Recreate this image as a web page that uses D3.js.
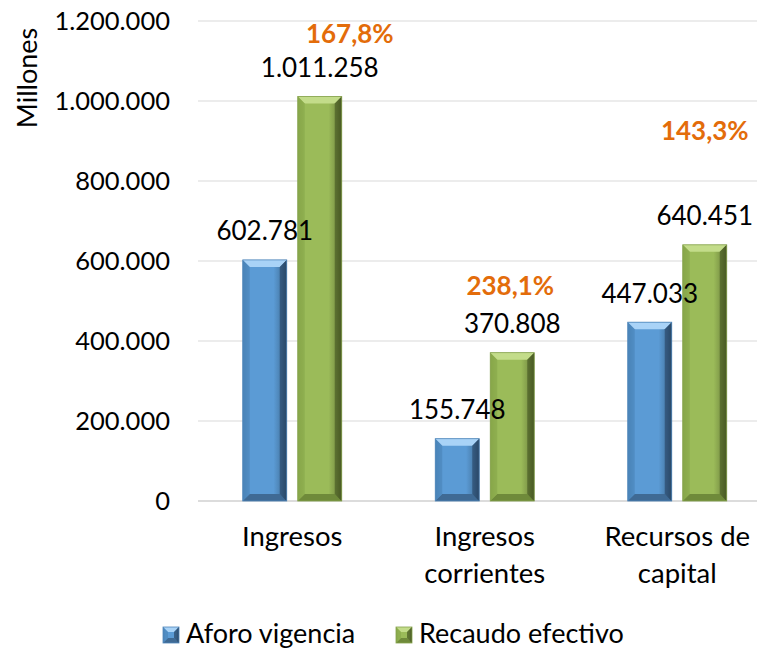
<!DOCTYPE html>
<html><head><meta charset="utf-8">
<script src="https://cdn.jsdelivr.net/npm/d3@7"></script>
<style>body{margin:0;background:#fff}svg{display:block}text{font-family:Lato,"Open Sans",sans-serif}</style>
</head><body>
<script>
const categories = [["Ingresos"], ["Ingresos", "corrientes"], ["Recursos de", "capital"]];
const seriesNames = ["Aforo vigencia", "Recaudo efectivo"];
const aforo = [602781, 155748, 447033];
const recaudo = [1011258, 370808, 640451];
const pctLabels = ["167,8%", "238,1%", "143,3%"];
const yTicks = [0, 200000, 400000, 600000, 800000, 1000000, 1200000];

const W = 761, H = 649;
const svg = d3.select("body").append("svg").attr("width", W).attr("height", H);
const defs = svg.append("defs");

const y = d3.scaleLinear().domain([0, 1200000]).range([501, 21]);
const x0 = d3.scaleBand().domain(d3.range(3)).range([196, 773.5]).paddingInner(0).paddingOuter(0);
const x1 = d3.scaleBand().domain([0, 1]).range([x0.bandwidth()/2 - 49.5, x0.bandwidth()/2 + 49.5]).paddingInner(0.2).paddingOuter(0);

const fmt = v => d3.format(",")(v).replace(/,/g, ".");

const pal = [
  {main: "#5b9bd5", light: "#8cc0ee", top: "#a9d3f7", dark: "#2f4f70", bottom: "#3f6a94", right: "#1f3550", left: "#4a83b8"},
  {main: "#9bbb59", light: "#b2cf73", top: "#c3dc8a", dark: "#4f6228", bottom: "#6f8a3a", right: "#36431b", left: "#87a64a"}
];
pal.forEach((p, i) => {
  const g = defs.append("linearGradient").attr("id", "g" + i).attr("x1", 0).attr("x2", 1).attr("y1", 0).attr("y2", 0);
  g.append("stop").attr("offset", 0).attr("stop-color", p.left);
  g.append("stop").attr("offset", 0.15).attr("stop-color", p.main);
  g.append("stop").attr("offset", 0.7).attr("stop-color", p.main);
  g.append("stop").attr("offset", 0.85).attr("stop-color", d3.color(p.main).darker(0.5));
  g.append("stop").attr("offset", 1).attr("stop-color", p.right);
});

// gridlines
svg.append("g").selectAll("line").data(yTicks).join("line")
  .attr("x1", 198).attr("x2", 757).attr("y1", d => y(d)).attr("y2", d => y(d))
  .attr("stroke", d => d === 0 ? "#d0d0d0" : "#d9d9d9").attr("stroke-width", d => d === 0 ? 1.5 : 1);

// y axis labels
svg.append("g").selectAll("text").data(yTicks).join("text")
  .attr("x", 170).attr("y", d => y(d)).attr("dy", "0.36em").attr("text-anchor", "end")
  .attr("font-size", 25.5).attr("fill", "#000").text(d => fmt(d));

svg.append("text").attr("transform", "translate(37,78) rotate(-90)").attr("text-anchor", "middle")
  .attr("font-size", 27).text("Millones");

function bar(g, x, w, yTop, yBot, p, gi, bv) {
  const b = bv || 7;
  const h = yBot - yTop;
  const bb = Math.min(b, h / 2);
  g.append("rect").attr("x", x).attr("y", yTop).attr("width", w).attr("height", h).attr("fill", `url(#g${gi})`);
  g.append("polygon").attr("points", [[x, yTop], [x + w, yTop], [x + w - b, yTop + bb], [x + b, yTop + bb]].join(" ")).attr("fill", p.top);
  g.append("polygon").attr("points", [[x, yBot], [x + w, yBot], [x + w - b, yBot - bb], [x + b, yBot - bb]].join(" ")).attr("fill", p.bottom);
  g.append("polygon").attr("points", [[x, yTop], [x + b, yTop + bb], [x + b, yBot - bb], [x, yBot]].join(" ")).attr("fill", p.left).attr("opacity", 0.6);
  g.append("polygon").attr("points", [[x + w, yTop], [x + w - b, yTop + bb], [x + w - b, yBot - bb], [x + w, yBot]].join(" ")).attr("fill", p.dark).attr("opacity", 0.75);
  g.append("rect").attr("x", x).attr("y", yTop).attr("width", w).attr("height", h).attr("fill", "none").attr("stroke", d3.color(p.main).darker(0.4)).attr("stroke-width", 0.8);
}

const series = [aforo, recaudo];
const bars = svg.append("g");
categories.forEach((c, i) => {
  series.forEach((s, si) => {
    const bx = x0(i) + x1(si);
    bar(bars, bx, x1.bandwidth(), y(s[i]), y(0), pal[si], si);
  });
});

// value labels
const labels = svg.append("g");
categories.forEach((c, i) => {
  series.forEach((s, si) => {
    const bx = x0(i) + x1(si) + x1.bandwidth() / 2;
    labels.append("text").attr("x", bx).attr("y", y(s[i]) - 19.5)
      .attr("text-anchor", "middle").attr("font-size", 26).attr("fill", "#000").text(fmt(s[i]));
  });
});
// percentage labels (offsets relative to top of green bar)
const pctDx = [30, -2, 0];
const pctDy = [-53.5, -57.5, -105];
categories.forEach((c, i) => {
  const bx = x0(i) + x1(1) + x1.bandwidth() / 2 + pctDx[i];
  svg.append("text").attr("x", bx).attr("y", y(recaudo[i]) + pctDy[i]).attr("text-anchor", "middle")
    .attr("font-size", 26).attr("font-weight", "bold").attr("fill", "#e36c0a").text(pctLabels[i]);
});

// category labels
categories.forEach((c, i) => {
  const cx = x0(i) + x0.bandwidth() / 2;
  c.forEach((line, li) => {
    svg.append("text").attr("x", cx).attr("y", 546 + li * 37).attr("text-anchor", "middle")
      .attr("font-size", 27.5).attr("fill", "#000").text(line);
  });
});

// legend
const legX = [163, 396];
seriesNames.forEach((n, i) => {
  const g = svg.append("g");
  bar(g, legX[i], 16, 627, 643, pal[i], i, 5);
  g.append("text").attr("x", legX[i] + 23).attr("y", 643).attr("font-size", 27).attr("fill", "#000").text(n);
});
</script>
</body></html>
